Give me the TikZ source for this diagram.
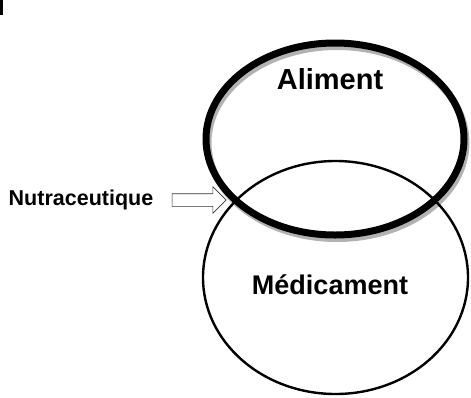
\documentclass[tikz,border=0pt]{standalone}
\usepackage{fontspec}
\setmainfont{Liberation Sans}
\usetikzlibrary{shapes.geometric,shapes.arrows}

\begin{document}
\begin{tikzpicture}[x=1pt,y=-1pt]
        \useasboundingbox (0,0) rectangle (471,397);
        % Centres of the two sets
        \coordinate (F) at (335,139); % Aliment
        \coordinate (D) at (335.5,277.5); % Medicament
        \coordinate (S) at (337,142.5); % shadow of Aliment
        % Small mark at the top left
        \fill (0,0) rectangle (3,15);
        % Drawing the two ellipses
        \node[draw=black!30,line width=7pt,ellipse,inner sep=0pt,minimum width=258pt,minimum height=192pt] (shadow) at (S) {};
        \node[draw,line width=2.4pt,ellipse,inner sep=0pt,minimum width=265pt,minimum height=233pt] (med) at (D) {};
        \node[draw,line width=7pt,ellipse,inner sep=0pt,minimum width=258pt,minimum height=192pt] (food) at (F) {};
        % Labels of the sets
        \node[font=\bfseries\fontsize{29}{31}\selectfont] (foodlbl) at (330,79) {Aliment};
        \node[font=\bfseries\fontsize{27}{30}\selectfont] (medlbl) at (330,285) {Médicament};
        % Arrow pointing to the overlap
        \node[font=\bfseries\fontsize{21.5}{23}\selectfont,anchor=base] (nutra) at (81,205) {Nutraceutique};
        \node[single arrow,draw=black!80,line width=0.6pt,minimum height=54pt,inner xsep=0pt,inner ysep=6pt,single arrow head extend=7pt] (arr) at (196,200) {};
    \end{tikzpicture}
\end{document}
